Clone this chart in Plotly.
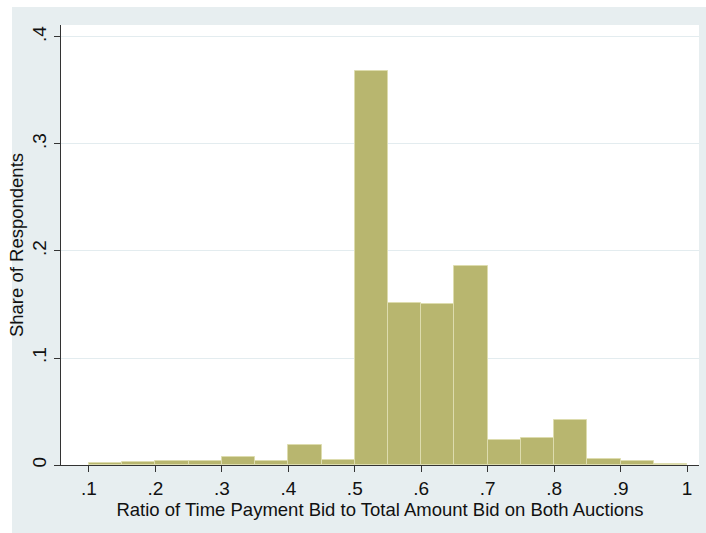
import plotly.graph_objects as go

bin_start = [0.10, 0.15, 0.20, 0.25, 0.30, 0.35, 0.40, 0.45, 0.50,
             0.55, 0.60, 0.65, 0.70, 0.75, 0.80, 0.85, 0.90, 0.95]
bin_width = 0.05
share = [0.0015, 0.0025, 0.0040, 0.0040, 0.0078, 0.0040, 0.0183, 0.0043, 0.368,
         0.151, 0.150, 0.186, 0.0237, 0.0256, 0.042, 0.0056, 0.0041, 0.0013]

x_ticks = [0.1, 0.2, 0.3, 0.4, 0.5, 0.6, 0.7, 0.8, 0.9, 1.0]
x_ticktext = [".1", ".2", ".3", ".4", ".5", ".6", ".7", ".8", ".9", "1"]
y_ticks = [0, 0.1, 0.2, 0.3, 0.4]
y_ticktext = ["0", ".1", ".2", ".3", ".4"]

x_title = "Ratio of Time Payment Bid to Total Amount Bid on Both Auctions"
y_title = "Share of Respondents"

centers = [s + bin_width / 2 for s in bin_start]

BG = "#E7EEF0"
FONT = "Liberation Sans, Arial, Helvetica, sans-serif"

fig = go.Figure()
fig.add_trace(go.Bar(
    x=centers, y=share, width=bin_width,
    marker=dict(color="#B8B66F", line=dict(color="#DDDCAE", width=1)),
    hoverinfo="x+y",
))

fig.update_layout(
    width=706, height=533,
    margin=dict(l=61, r=7, t=25, b=68),
    paper_bgcolor=BG,
    plot_bgcolor="white",
    showlegend=False,
    bargap=0,
    font=dict(family=FONT, size=18.5, color="#111111"),
    xaxis=dict(
        range=[0.0579, 1.018],
        tickmode="array", tickvals=x_ticks, ticktext=x_ticktext,
        ticks="outside", ticklen=6, tickcolor="#333333", tickwidth=1,
        showline=True, linecolor="#333333", linewidth=1,
        showgrid=False, zeroline=False,
        tickfont=dict(size=19),
        title=dict(text=x_title, font=dict(size=18.5), standoff=0),
    ),
    yaxis=dict(
        range=[0, 0.4112],
        tickmode="array", tickvals=y_ticks, ticktext=y_ticktext,
        ticks="outside", ticklen=6, tickcolor="#333333", tickwidth=1,
        tickangle=-90,
        showline=True, linecolor="#333333", linewidth=1,
        showgrid=True, gridcolor="#E3ECEF", gridwidth=1,
        zeroline=False,
        tickfont=dict(size=19),
        title=dict(text=y_title, font=dict(size=18.5), standoff=0),
    ),
    shapes=[
        dict(type="rect", xref="paper", yref="paper",
             x0=-61/638, x1=(12-61)/638, y0=-68/440, y1=1+25/440,
             fillcolor="white", line=dict(width=0), layer="above"),
        dict(type="rect", xref="paper", yref="paper",
             x0=-61/638, x1=1+7/638, y0=1+18/440, y1=1+25/440,
             fillcolor="white", line=dict(width=0), layer="above"),
    ],
)

fig.write_html("out.html")
